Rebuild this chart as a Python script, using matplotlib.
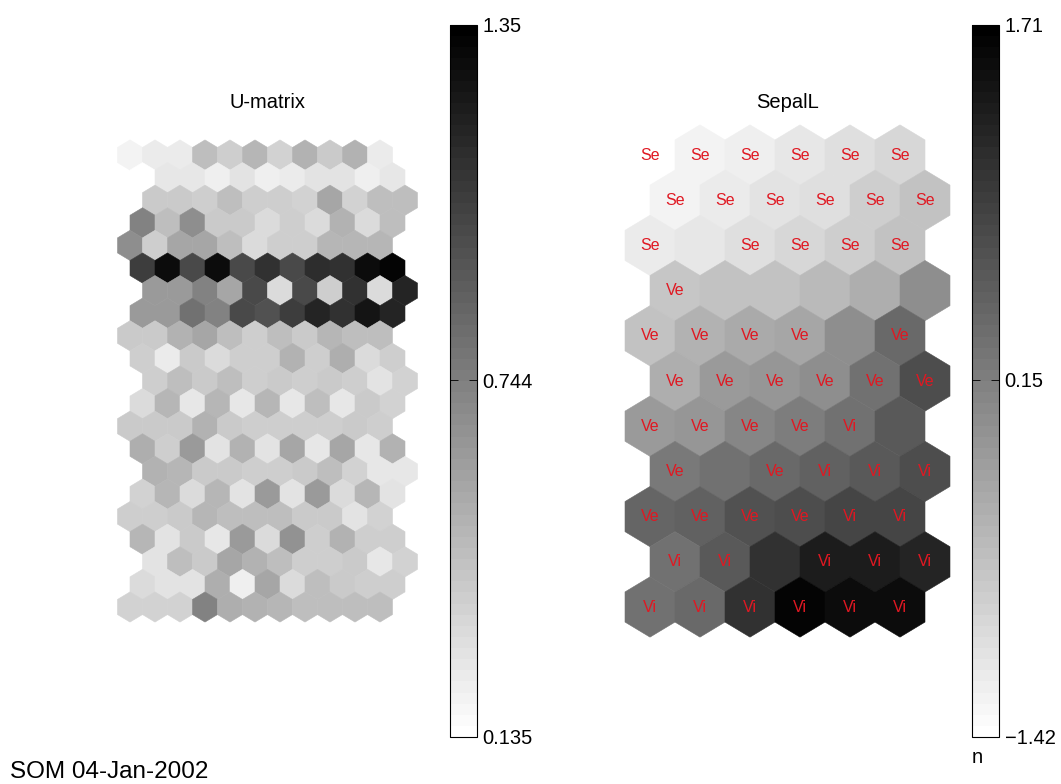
import numpy as np
import matplotlib
matplotlib.use("Agg")
import matplotlib.pyplot as plt
from matplotlib.collections import PolyCollection
from matplotlib.colors import ListedColormap, Normalize

plt.rcParams["font.family"] = ["Liberation Sans", "DejaVu Sans"]

# U-matrix of an 11x6 hexagonal SOM (21 x 11 cells)
umatrix = [
    [0.20, 0.23, 0.23, 0.44, 0.38, 0.48, 0.35, 0.50, 0.40, 0.50, 0.23],
    [0.14, 0.26, 0.26, 0.22, 0.28, 0.22, 0.23, 0.27, 0.28, 0.22, 0.26],
    [0.40, 0.40, 0.38, 0.44, 0.38, 0.38, 0.35, 0.56, 0.35, 0.44, 0.44],
    [0.74, 0.44, 0.68, 0.40, 0.40, 0.32, 0.38, 0.32, 0.50, 0.32, 0.44],
    [0.68, 0.38, 0.56, 0.56, 0.44, 0.32, 0.38, 0.38, 0.48, 0.48, 0.48],
    [1.05, 1.29, 0.99, 1.29, 0.99, 1.11, 0.99, 1.13, 1.11, 1.29, 1.33],
    [0.62, 0.62, 0.74, 0.56, 0.99, 0.32, 0.99, 0.38, 1.11, 0.32, 1.17],
    [0.62, 0.62, 0.80, 0.74, 0.99, 0.96, 1.05, 1.17, 1.11, 1.25, 1.17],
    [0.40, 0.40, 0.50, 0.56, 0.44, 0.38, 0.44, 0.40, 0.48, 0.44, 0.44],
    [0.38, 0.23, 0.40, 0.32, 0.38, 0.38, 0.50, 0.38, 0.52, 0.32, 0.38],
    [0.38, 0.44, 0.40, 0.44, 0.38, 0.40, 0.38, 0.40, 0.38, 0.28, 0.35],
    [0.32, 0.48, 0.26, 0.48, 0.26, 0.48, 0.26, 0.44, 0.26, 0.40, 0.35],
    [0.40, 0.40, 0.40, 0.50, 0.40, 0.38, 0.38, 0.38, 0.38, 0.40, 0.38],
    [0.52, 0.38, 0.62, 0.28, 0.50, 0.28, 0.56, 0.26, 0.56, 0.26, 0.50],
    [0.50, 0.48, 0.40, 0.40, 0.38, 0.38, 0.40, 0.44, 0.35, 0.26, 0.26],
    [0.35, 0.48, 0.32, 0.48, 0.28, 0.62, 0.28, 0.62, 0.32, 0.48, 0.28],
    [0.38, 0.38, 0.40, 0.48, 0.44, 0.44, 0.44, 0.40, 0.40, 0.28, 0.35],
    [0.48, 0.28, 0.40, 0.26, 0.62, 0.32, 0.65, 0.38, 0.50, 0.38, 0.38],
    [0.28, 0.44, 0.40, 0.56, 0.50, 0.44, 0.38, 0.38, 0.40, 0.26, 0.35],
    [0.32, 0.28, 0.28, 0.52, 0.22, 0.56, 0.32, 0.44, 0.40, 0.38, 0.38],
    [0.35, 0.35, 0.35, 0.74, 0.52, 0.50, 0.48, 0.44, 0.44, 0.44, 0.44],
]

# Normalized SepalL component plane (11 x 6 map units)
sepal_length = [
    [-1.39, -1.26, -1.20, -1.11, -1.01, -0.89],
    [-1.26, -1.17, -1.04, -0.98, -0.79, -0.64],
    [-1.17, -1.11, -0.98, -0.92, -0.79, -0.64],
    [-0.73, -0.64, -0.64, -0.54, -0.42, -0.01],
    [-0.64, -0.48, -0.39, -0.32, -0.01, 0.40],
    [-0.42, -0.17, -0.10, -0.01, 0.30, 0.77],
    [-0.17, -0.10, 0.08, 0.15, 0.30, 0.61],
    [0.21, 0.30, 0.40, 0.52, 0.61, 0.77],
    [0.46, 0.52, 0.71, 0.77, 0.83, 0.83],
    [0.30, 0.61, 1.08, 1.33, 1.33, 1.24],
    [0.30, 0.40, 1.08, 1.65, 1.55, 1.55],
]

# Best-matching-unit labels of the iris classes
unit_labels = [
    ["Se", "Se", "Se", "Se", "Se", "Se"],
    ["Se", "Se", "Se", "Se", "Se", "Se"],
    ["Se", "", "Se", "Se", "Se", "Se"],
    ["Ve", "", "", "", "", ""],
    ["Ve", "Ve", "Ve", "Ve", "", "Ve"],
    ["Ve", "Ve", "Ve", "Ve", "Ve", "Ve"],
    ["Ve", "Ve", "Ve", "Ve", "Vi", ""],
    ["Ve", "", "Ve", "Vi", "Vi", "Vi"],
    ["Ve", "Ve", "Ve", "Ve", "Vi", "Vi"],
    ["Vi", "Vi", "", "Vi", "Vi", "Vi"],
    ["Vi", "Vi", "Vi", "Vi", "Vi", "Vi"],
]

umat_range = [0.135, 1.35]
umat_ticks = [0.135, 0.744, 1.35]
umat_ticklabels = ["0.135", "0.744", "1.35"]
sepal_range = [-1.42, 1.71]
sepal_ticks = [-1.42, 0.15, 1.71]
sepal_ticklabels = ["\u22121.42", "0.15", "1.71"]

titles = ["U-matrix", "SepalL"]
footer = "SOM 04-Jan-2002"

# ---------------------------------------------------------------- layout
W, H = 1061, 784
SCALE = 50.0          # pixels per map-unit column pitch
ROW = 0.904           # row pitch relative to column pitch
R = ROW / 1.5         # hexagon vertex radius

fig = plt.figure(figsize=(W / 100, H / 100), dpi=100)
fig.patch.set_facecolor("white")

def px_rect(left, top, w, h):
    return [left / W, 1 - (top + h) / H, w / W, h / H]

cmap = ListedColormap(np.repeat(np.linspace(1, 0, 64)[:, None], 3, axis=1))

def hexagon(cx, cy, half_w, rad):
    return [(cx, cy - rad), (cx + half_w, cy - rad / 2), (cx + half_w, cy + rad / 2),
            (cx, cy + rad), (cx - half_w, cy + rad / 2), (cx - half_w, cy - rad / 2)]

XL, XR, YT, YB = 0.7, 6.2, 0.7, 9.75

def make_axes(x0_px):
    ax = fig.add_axes(px_rect(x0_px - XL * SCALE, 155 - YT * SCALE,
                              (XL + XR) * SCALE, (YT + YB) * SCALE))
    ax.set_xlim(-XL, XR)
    ax.set_ylim(YB, -YT)
    ax.axis("off")
    return ax

# U-matrix plane
ax1 = make_axes(130)
umat = np.array(umatrix)
row_shift = [0, 0.5, 1, 0.5]
polys, vals = [], []
for k in range(umat.shape[0]):
    for c in range(umat.shape[1]):
        cx = 0.5 * (c + row_shift[k % 4])
        cy = 0.5 * ROW * k
        polys.append(hexagon(cx, cy, 0.25, R / 2))
        vals.append(umat[k, c])
norm1 = Normalize(*umat_range)
pc1 = PolyCollection(polys, array=np.array(vals), cmap=cmap, norm=norm1,
                     edgecolors="face", linewidths=0.4)
ax1.add_collection(pc1)
ax1.set_title(titles[0], fontsize=14.5, pad=9)

# SepalL component plane
ax2 = make_axes(650)
sep = np.array(sepal_length)
polys, vals = [], []
for r in range(sep.shape[0]):
    for c in range(sep.shape[1]):
        cx = c + 0.5 * (r % 2)
        cy = ROW * r
        polys.append(hexagon(cx, cy, 0.5, R))
        vals.append(sep[r, c])
        if unit_labels[r][c]:
            ax2.text(cx, cy, unit_labels[r][c], ha="center", va="center",
                     color="#e01822", fontsize=11.5, zorder=3)
norm2 = Normalize(*sepal_range)
pc2 = PolyCollection(polys, array=np.array(vals), cmap=cmap, norm=norm2,
                     edgecolors="face", linewidths=0.4)
ax2.add_collection(pc2)
ax2.set_title(titles[1], fontsize=14.5, pad=9)

# colorbars
def add_colorbar(mappable, left_px, ticks, labels, xlabel=None):
    cax = fig.add_axes(px_rect(left_px, 25, 27, 712))
    cb = fig.colorbar(mappable, cax=cax, ticks=ticks)
    cb.set_ticklabels(labels)
    cb.outline.set_linewidth(0.8)
    cax.minorticks_off()
    cax.tick_params(axis="y", which="both", direction="in", left=True, right=True,
                    length=6, width=0.6, labelsize=14.5, pad=4)
    if xlabel:
        cax.set_xlabel(xlabel, fontsize=14.5, labelpad=8, loc="left")
    return cb

add_colorbar(pc1, 450, umat_ticks, umat_ticklabels)
add_colorbar(pc2, 972, sepal_ticks, sepal_ticklabels, xlabel="n")

fig.text(10 / W, 1 - 778 / H, footer, fontsize=17.5, ha="left", va="baseline")

fig.savefig("out.png", dpi=100, facecolor="white")
